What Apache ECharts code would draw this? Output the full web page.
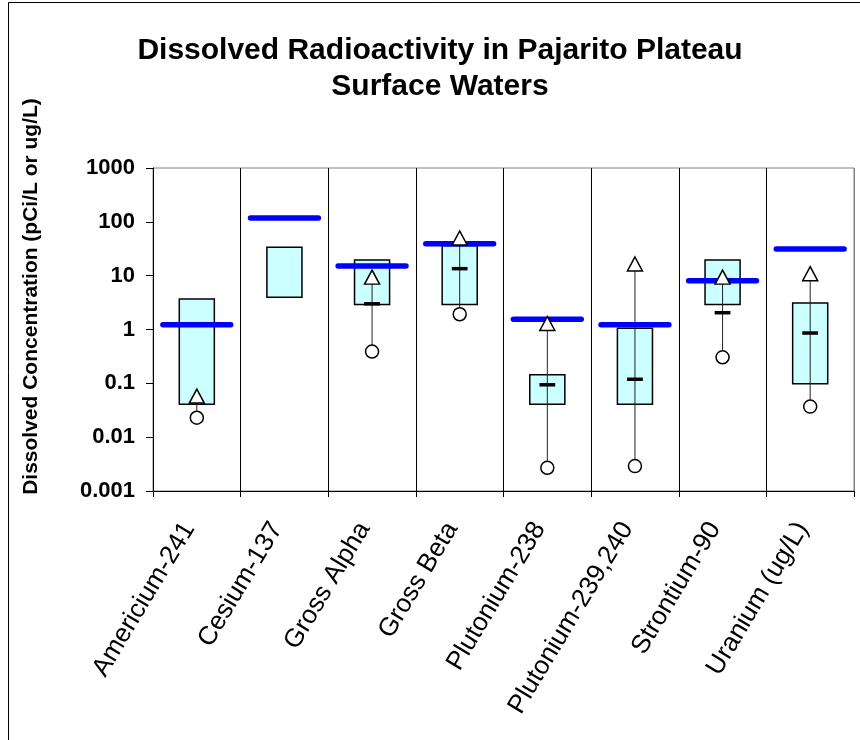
<!DOCTYPE html>
<html>
<head>
<meta charset="utf-8">
<script src="https://cdn.jsdelivr.net/npm/echarts@6/dist/echarts.min.js"></script>
<style>
  html, body { margin: 0; padding: 0; background: #ffffff; }
  #chart { width: 860px; height: 740px; }
</style>
</head>
<body>
<div id="chart"></div>
<script>
// Dissolved radionuclide concentrations, Pajarito Plateau surface waters
const categories = ['Americium-241', 'Cesium-137', 'Gross Alpha', 'Gross Beta',
  'Plutonium-238', 'Plutonium-239,240', 'Strontium-90', 'Uranium (ug/L)'];
// box spans (low / high), median, minimum, maximum and the screening standard
const boxLow    = [0.041, 3.96, 2.9, 2.9, 0.041, 0.041, 2.9, 0.098];
const boxHigh   = [3.7, 33.7, 19.6, 36, 0.145, 1.05, 19.6, 3.1];
const medians   = [null, null, 3.0, 13.5, 0.094, 0.119, 2.05, 0.86];
const minima    = [0.023, null, 0.39, 1.92, 0.0027, 0.0029, 0.305, 0.037];
const maxima    = [0.058, null, 9.4, 50, 1.29, 16.5, 9.4, 10.9];
const standards = [1.23, 118, 15.1, 39.3, 1.55, 1.23, 8.07, 31.3];
const tickLabels = ['0.001', '0.01', '0.1', '1', '10', '100', '1000'];

const FONT = "'Liberation Sans', Arial, Helvetica, sans-serif";

function pairs(values) {
  const out = [];
  values.forEach((v, i) => { if (v != null) out.push([i, v]); });
  return out;
}
const boxData = categories.map((c, i) => [i, boxLow[i], boxHigh[i]]);
const whiskerData = [];
categories.forEach((c, i) => {
  if (minima[i] != null && maxima[i] != null) whiskerData.push([i, minima[i], maxima[i]]);
});

function bandWidth(api) {
  return api.coord([1, 1])[0] - api.coord([0, 1])[0];
}

function renderBox(params, api) {
  const i = api.value(0);
  const lo = api.coord([i, api.value(1)]);
  const hi = api.coord([i, api.value(2)]);
  const w = bandWidth(api) * 0.40;
  return {
    type: 'rect',
    shape: { x: lo[0] - w / 2, y: hi[1], width: w, height: lo[1] - hi[1] },
    style: { fill: '#CCFFFF', stroke: '#000000', lineWidth: 1.5 }
  };
}

function renderWhisker(params, api) {
  const i = api.value(0);
  const lo = api.coord([i, api.value(1)]);
  const hi = api.coord([i, api.value(2)]);
  return {
    type: 'line',
    shape: { x1: lo[0], y1: lo[1], x2: hi[0], y2: hi[1] },
    style: { stroke: '#222222', lineWidth: 1 }
  };
}

function dashRenderer(fraction, color, width, cap) {
  return function (params, api) {
    const i = api.value(0);
    const p = api.coord([i, api.value(1)]);
    const half = bandWidth(api) * fraction;
    return {
      type: 'line',
      shape: { x1: p[0] - half, y1: p[1], x2: p[0] + half, y2: p[1] },
      style: { stroke: color, lineWidth: width, lineCap: cap }
    };
  };
}

const chart = echarts.init(document.getElementById('chart'));
chart.setOption({
  backgroundColor: '#ffffff',
  animation: false,
  title: {
    text: 'Dissolved Radioactivity in Pajarito Plateau\nSurface Waters',
    left: 440,
    top: 33,
    padding: 0,
    textAlign: 'center',
    textStyle: { fontFamily: FONT, fontSize: 30, fontWeight: 'bold', color: '#000000', lineHeight: 36 }
  },
  graphic: [{
    type: 'rect',
    silent: true,
    z: -10,
    shape: { x: 8.5, y: 2.5, width: 1000, height: 1000 },
    style: { fill: 'none', stroke: '#000000', lineWidth: 1 }
  }],
  grid: {
    left: 153, right: 6, top: 168, bottom: 249,
    show: true, borderColor: '#808080', borderWidth: 1,
    containLabel: false, outerBoundsMode: 'none'
  },
  xAxis: {
    type: 'category',
    data: categories,
    boundaryGap: true,
    axisLine: { lineStyle: { color: '#000000', width: 1 } },
    axisTick: { show: true, length: 6, lineStyle: { color: '#000000' } },
    splitLine: {
      show: true,
      lineStyle: { color: ['#000000', '#000000', '#000000', '#000000', '#000000',
        '#000000', '#000000', '#000000', '#808080'], width: 1 }
    },
    axisLabel: {
      interval: 0, rotate: 59, margin: 38,
      verticalAlign: 'bottom', lineHeight: 18,
      fontFamily: FONT, fontSize: 26, color: '#000000'
    }
  },
  yAxis: {
    type: 'log',
    logBase: 10,
    min: 0.001,
    max: 1000,
    name: 'Dissolved Concentration (pCi/L or ug/L)',
    nameLocation: 'middle',
    nameGap: 111,
    nameTextStyle: {
      fontFamily: FONT, fontSize: 21, fontWeight: 'bold', color: '#000000',
      padding: [0, 0, 0, 66]
    },
    axisLine: { show: true, lineStyle: { color: '#000000', width: 1 } },
    axisTick: { show: true, length: 7, lineStyle: { color: '#000000' } },
    splitLine: { show: false },
    minorTick: { show: false },
    axisLabel: {
      margin: 18,
      fontFamily: FONT, fontSize: 22, fontWeight: 'bold', color: '#000000',
      formatter: v => tickLabels[Math.round(Math.log10(v)) + 3]
    }
  },
  series: [
    {
      name: 'Range', type: 'custom', renderItem: renderBox,
      encode: { x: 0, y: [1, 2] }, data: boxData
    },
    {
      name: 'Whisker', type: 'custom', renderItem: renderWhisker,
      encode: { x: 0, y: [1, 2] }, data: whiskerData
    },
    {
      name: 'Median', type: 'custom',
      renderItem: dashRenderer(0.09, '#000000', 3.5, 'butt'),
      encode: { x: 0, y: 1 }, data: pairs(medians)
    },
    {
      name: 'Maximum', type: 'scatter', symbol: 'triangle', symbolSize: [15, 14],
      itemStyle: { color: '#ffffff', borderColor: '#000000', borderWidth: 1.5, opacity: 1 },
      data: pairs(maxima)
    },
    {
      name: 'Minimum', type: 'scatter', symbol: 'circle', symbolSize: 13,
      itemStyle: { color: '#ffffff', borderColor: '#000000', borderWidth: 1.5, opacity: 1 },
      data: pairs(minima)
    },
    {
      name: 'Standard', type: 'custom',
      renderItem: dashRenderer(0.387, '#0000FF', 5.5, 'round'),
      encode: { x: 0, y: 1 }, data: pairs(standards)
    }
  ]
});
</script>
</body>
</html>
